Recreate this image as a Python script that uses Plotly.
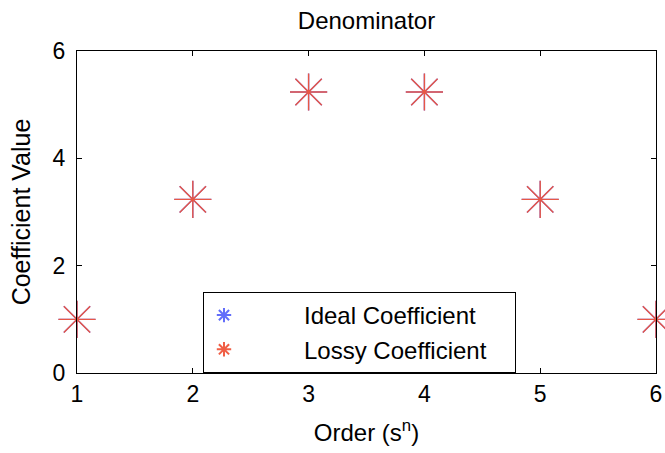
import plotly.graph_objects as go

# Denominator coefficients, ordered by power of s
order = [1, 2, 3, 4, 5, 6]
ideal_coeff = [1.0, 3.2361, 5.2361, 5.2361, 3.2361, 1.0]
lossy_coeff = [1.0, 3.2361, 5.2361, 5.2361, 3.2361, 1.0]
series_names = ["Ideal Coefficient", "Lossy Coefficient"]

font = "Liberation Sans, Arial, Helvetica, sans-serif"
pad = "\u00a0" * 9  # push legend text away from the symbol, like the MATLAB legend

fig = go.Figure()
fig.add_trace(go.Scatter(
    x=order, y=ideal_coeff, mode="markers", name=pad + series_names[0] + "\u00a0" * 5,
    marker=dict(symbol="asterisk-open", size=31, line=dict(color="#0000ff", width=1.4)),
    cliponaxis=False,
))
fig.add_trace(go.Scatter(
    x=order, y=lossy_coeff, mode="markers", name=pad + series_names[1] + "\u00a0" * 3,
    marker=dict(symbol="asterisk-open", size=31, line=dict(color="#ff0000", width=1.4), opacity=0.95),
    cliponaxis=False,
))

axis_style = dict(
    showline=True, linecolor="black", linewidth=1, mirror="ticks",
    ticks="inside", ticklen=5, tickcolor="black", showgrid=False, zeroline=False,
    tickfont=dict(size=23, color="black"), automargin=False,
)

fig.update_layout(
    width=665, height=453,
    paper_bgcolor="white", plot_bgcolor="white",
    font=dict(family=font, color="black"),
    margin=dict(l=77, r=9, t=51, b=80),
    title=dict(text="Denominator", x=0.5, xref="paper", xanchor="center",
               y=1 - 21 / 453, yanchor="middle", font=dict(size=24)),
    xaxis=dict(range=[1, 6], dtick=1,
               title=dict(text="Order (s<sup>n</sup>)", font=dict(size=24), standoff=18),
               **axis_style),
    yaxis=dict(range=[0, 6], dtick=2, ticklabelstandoff=6,
               title=dict(text="Coefficient Value", font=dict(size=25), standoff=14),
               **axis_style),
    legend=dict(x=0.2176, y=0, xanchor="left", yanchor="bottom",
                bordercolor="black", borderwidth=1, bgcolor="white",
                font=dict(size=24), itemsizing="constant"),
    showlegend=True,
)

# no modebar, and drop the default 8px page margin so the figure sits at the window's corner
fig.write_html("out.html", config={"displayModeBar": False},
               post_script="document.body.style.margin='0';")
